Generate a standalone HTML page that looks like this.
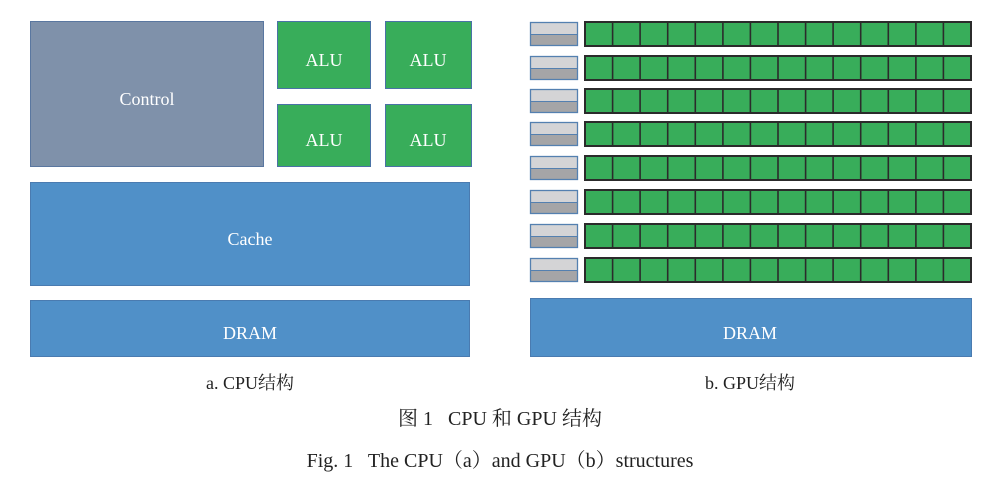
<!DOCTYPE html>
<html><head><meta charset="utf-8"><style>
html,body{margin:0;padding:0;background:#fff;}
svg{display:block;}
.w{font-family:"Liberation Serif","Noto Serif CJK SC",serif;fill:#fff;font-size:18px;text-anchor:middle;}
.k{font-family:"Liberation Serif","Noto Serif CJK SC",serif;fill:#222;text-anchor:middle;}
</style></head><body>
<svg width="1000" height="502" viewBox="0 0 1000 502">
<defs>
<g id="row">
<rect x="585" y="0" width="386" height="24" fill="#38ad5a" stroke="#2b2b2b" stroke-width="2"/>
<g stroke="#2b2b2b" stroke-width="1.6">
<line x1="612.6" y1="0" x2="612.6" y2="24"/><line x1="640.1" y1="0" x2="640.1" y2="24"/>
<line x1="667.7" y1="0" x2="667.7" y2="24"/><line x1="695.3" y1="0" x2="695.3" y2="24"/>
<line x1="722.9" y1="0" x2="722.9" y2="24"/><line x1="750.4" y1="0" x2="750.4" y2="24"/>
<line x1="778" y1="0" x2="778" y2="24"/><line x1="805.6" y1="0" x2="805.6" y2="24"/>
<line x1="833.1" y1="0" x2="833.1" y2="24"/><line x1="860.7" y1="0" x2="860.7" y2="24"/>
<line x1="888.3" y1="0" x2="888.3" y2="24"/><line x1="915.9" y1="0" x2="915.9" y2="24"/>
<line x1="943.4" y1="0" x2="943.4" y2="24"/>
</g>
<rect x="530.5" y="0.5" width="47" height="12" fill="#d4d4d6"/>
<rect x="530.5" y="12.5" width="47" height="11" fill="#a5a5a7"/>
<rect x="530.5" y="0.5" width="47" height="23" fill="none" stroke="#5480b0" stroke-width="1.3"/>
<line x1="530.5" y1="12.5" x2="577.5" y2="12.5" stroke="#5480b0" stroke-width="1"/>
</g>
</defs>
<!-- CPU -->
<rect x="30.5" y="21.5" width="233" height="145" fill="#7f91aa" stroke="#5a77a0"/>
<text class="w" x="147" y="105">Control</text>
<rect x="277.5" y="21.5" width="93" height="67" fill="#38ad5a" stroke="#4a72a6"/>
<text class="w" x="324" y="66">ALU</text>
<rect x="385.5" y="21.5" width="86" height="67" fill="#38ad5a" stroke="#4a72a6"/>
<text class="w" x="428" y="66">ALU</text>
<rect x="277.5" y="104.5" width="93" height="62" fill="#38ad5a" stroke="#4a72a6"/>
<text class="w" x="324" y="146">ALU</text>
<rect x="385.5" y="104.5" width="86" height="62" fill="#38ad5a" stroke="#4a72a6"/>
<text class="w" x="428" y="146">ALU</text>
<rect x="30.5" y="182.5" width="439" height="103" fill="#5090c8" stroke="#4a7bb0"/>
<text class="w" x="250" y="245">Cache</text>
<rect x="30.5" y="300.5" width="439" height="56" fill="#5090c8" stroke="#4a7bb0"/>
<text class="w" x="250" y="339">DRAM</text>
<!-- GPU -->
<use href="#row" y="22"/>
<use href="#row" y="56"/>
<use href="#row" y="89"/>
<use href="#row" y="122"/>
<use href="#row" y="156"/>
<use href="#row" y="190"/>
<use href="#row" y="224"/>
<use href="#row" y="258"/>
<rect x="530.5" y="298.5" width="441" height="58" fill="#5090c8" stroke="#4a7bb0"/>
<text class="w" x="750" y="339">DRAM</text>
<!-- captions -->
<text class="k" x="250" y="389" font-size="18">a. CPU结构</text>
<text class="k" x="750" y="389" font-size="18">b. GPU结构</text>
<text class="k" x="500" y="425" font-size="20" xml:space="preserve">图 1   CPU 和 GPU 结构</text>
<text class="k" x="500" y="467" font-size="20" xml:space="preserve">Fig. 1   The CPU（a）and GPU（b）structures</text>
</svg>
</body></html>
